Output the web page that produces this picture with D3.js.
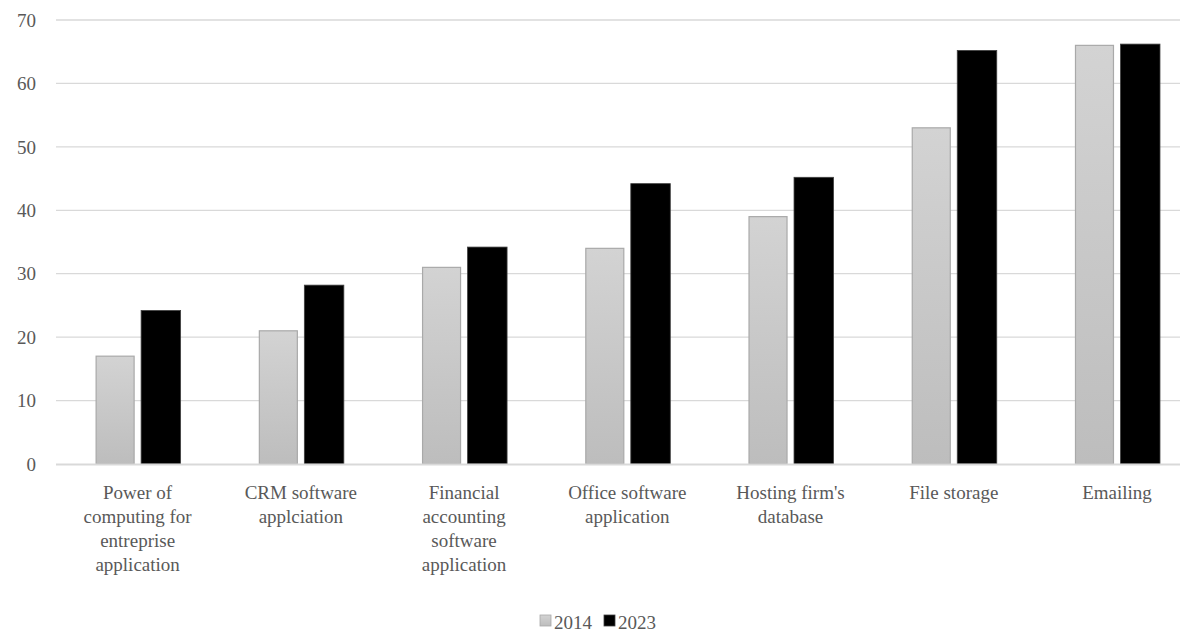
<!DOCTYPE html>
<meta charset="UTF-8">
<script src="https://d3js.org/d3.v7.min.js"></script>
<style>
body { margin: 0; background: #fff; }
</style>
<div id="chart"></div>
<script>
// data
var categories = [
    "Power of\ncomputing for\nentreprise\napplication",
    "CRM software\napplciation",
    "Financial\naccounting\nsoftware\napplication",
    "Office software\napplication",
    "Hosting firm's\ndatabase",
    "File storage",
    "Emailing"
]
var series = ["2014", "2023"]
var values2014 = [17, 21, 31, 34, 39, 53, 66]
var values2023 = [24.2, 28.2, 34.2, 44.2, 45.2, 65.2, 66.2]
var yTicks = [0, 10, 20, 30, 40, 50, 60, 70]

var width = 1188, height = 634
var fontFam = "Liberation Serif"
var textCol = "#595959"
var fs = 19
var svg = d3.select("#chart").append("svg")
    .attr("width", width).attr("height", height)

var defs = svg.append("defs")
var grad = defs.append("linearGradient").attr("id", "grey")
    .attr("x1", 0).attr("y1", 0).attr("x2", 0).attr("y2", 1)
grad.append("stop").attr("offset", "0%").attr("stop-color", "#d3d3d3")
grad.append("stop").attr("offset", "100%").attr("stop-color", "#bdbdbd")

var plotLeft = 56, gridRight = 1180
var x = d3.scaleBand().domain(categories).range([plotLeft, 1198.6]).paddingInner(0).paddingOuter(0)
var y = d3.scaleLinear().domain([0, 70]).range([464, 20])

// gridlines
svg.append("g").selectAll("line").data(yTicks.filter(function(d){ return d > 0 }))
    .enter().append("line")
    .attr("x1", plotLeft).attr("x2", gridRight)
    .attr("y1", function(d){ return y(d) }).attr("y2", function(d){ return y(d) })
    .attr("stroke", "#d9d9d9").attr("stroke-width", 1.3)

// y labels
svg.append("g").selectAll("text").data(yTicks).enter().append("text")
    .attr("x", 36).attr("y", function(d){ return y(d) })
    .attr("dy", "0.35em").attr("text-anchor", "end")
    .attr("font-family", fontFam).attr("font-size", fs).attr("fill", textCol)
    .text(function(d){ return d })

var bw = 38, gap = 7
var rows = categories.map(function(c, i){ return { cat: c, a: values2014[i], b: values2023[i] } })
var g = svg.append("g")
g.selectAll(".b14").data(rows).enter().append("rect")
    .attr("x", function(d){ return x(d.cat) + x.bandwidth()/2 - gap/2 - bw })
    .attr("y", function(d){ return y(d.a) })
    .attr("width", bw)
    .attr("height", function(d){ return y(0) - y(d.a) })
    .attr("fill", "url(#grey)")
    .attr("stroke", "#a9a9a9").attr("stroke-width", 1.2)
g.selectAll(".b23").data(rows).enter().append("rect")
    .attr("x", function(d){ return x(d.cat) + x.bandwidth()/2 + gap/2 })
    .attr("y", function(d){ return y(d.b) })
    .attr("width", bw + 1.5)
    .attr("height", function(d){ return y(0) - y(d.b) })
    .attr("fill", "#000")
    .attr("stroke", "#404040").attr("stroke-width", 0.8)

// zero axis line
svg.append("line").attr("x1", plotLeft).attr("x2", gridRight)
    .attr("y1", y(0) + 0.5).attr("y2", y(0) + 0.5)
    .attr("stroke", "#d9d9d9").attr("stroke-width", 2)

// category labels
var lab = svg.append("g").selectAll("text").data(categories).enter().append("text")
    .attr("text-anchor", "middle")
    .attr("font-family", fontFam).attr("font-size", fs).attr("fill", textCol)
    .attr("transform", function(d){ return "translate(" + (x(d) + x.bandwidth()/2) + ",499)" })
lab.selectAll("tspan").data(function(d){ return d.split("\n") }).enter().append("tspan")
    .attr("x", 0).attr("y", function(d, i){ return i * 24 })
    .text(function(d){ return d })

// legend
var legend = svg.append("g").attr("transform", "translate(540,622)")
var lx = [0, 64]
series.forEach(function(s, i){
    legend.append("rect").attr("x", lx[i]).attr("y", -7).attr("width", 11).attr("height", 11)
        .attr("fill", i == 0 ? "url(#grey)" : "#000")
        .attr("stroke", i == 0 ? "#a9a9a9" : "#404040").attr("stroke-width", 0.8)
    legend.append("text").attr("x", lx[i] + 14).attr("y", 0).attr("dy", "0.35em")
        .attr("font-family", fontFam).attr("font-size", fs).attr("fill", textCol).text(s)
})
</script>
